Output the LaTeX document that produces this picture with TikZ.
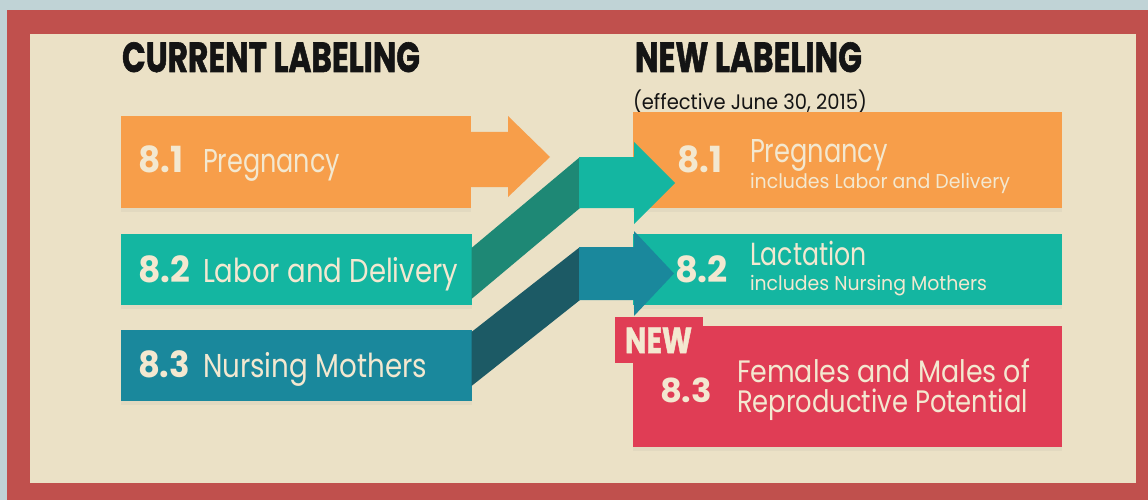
\documentclass[tikz,border=0pt]{standalone}
\usepackage{graphicx}
\usepackage{fontspec}
\setmainfont{Poppins}
\newfontfamily\headfont[BoldFeatures={FakeBold=1.5}]{Poppins}
\usetikzlibrary{shadows,calc}
\definecolor{outerbg}{HTML}{C0D3D6}
\definecolor{frame}{HTML}{C0504D}
\definecolor{cream}{HTML}{EBE1C6}
\definecolor{corange}{HTML}{F79E4A}
\definecolor{cteal}{HTML}{14B6A1}
\definecolor{cdteal}{HTML}{1A889C}
\definecolor{band1}{HTML}{1E8875}
\definecolor{band2}{HTML}{1C5A65}
\definecolor{cred}{HTML}{E03D55}
\definecolor{ctext}{HTML}{F3E8D0}
\definecolor{ink}{HTML}{141414}
\newcommand\fitw[2]{\resizebox{#1}{\height}{#2}}
\newcommand\fsz[1]{\fontsize{#1}{#1}\selectfont}
\begin{document}
\begin{tikzpicture}[x=1pt,y=-1pt,
  box/.style={inner sep=0pt, outer sep=0pt, anchor=north west,
    drop shadow={shadow xshift=0pt, shadow yshift=-4pt, opacity=0.08}},
  txt/.style={anchor=base west, inner sep=0pt, outer sep=0pt, text=ctext},
  head/.style={anchor=base west, inner sep=0pt, outer sep=0pt, text=ink}]
\useasboundingbox (0,0) rectangle (1148,500);
\fill[outerbg] (0,0) rectangle (1148,500);
\fill[frame] (7,10) rectangle (1148,500);
\fill[cream] (30,34) rectangle (1136,483);

% headings
\node[head] (h1) at (122,72) {\fsz{42}\headfont\bfseries\fitw{298pt}{CURRENT LABELING}};
\node[head] (h2) at (635,72) {\fsz{42}\headfont\bfseries\fitw{227pt}{NEW LABELING}};
\node[head] (h3) at (633,110) {\fsz{21}\fitw{234pt}{(effective June 30, 2015)}};

% left boxes
\node[box, fill=corange, minimum width=350pt, minimum height=92pt] (L1) at (121,116) {};
\node[box, fill=cteal, minimum width=351pt, minimum height=71pt] (L2) at (121,234) {};
\node[box, fill=cdteal, minimum width=351pt, minimum height=71pt] (L3) at (121,330) {};

% right boxes
\node[box, fill=corange, minimum width=429pt, minimum height=96pt] (R1) at (633,112) {};
\node[box, fill=cteal, minimum width=429pt, minimum height=71pt] (R2) at (633,234) {};
\node[box, fill=cred, minimum width=429pt, minimum height=121pt] (R3) at (633,326) {};
\node[inner sep=0pt, outer sep=0pt, anchor=north west, fill=cred, minimum width=88pt, minimum height=46pt] (tab) at (615,317) {};

% orange arrow
\fill[corange] (470,132) -- (508,132) -- (508,116) -- (550,157) -- (508,197) -- (508,187) -- (470,187) -- cycle;
% band 1 and arrow to new 8.1
\fill[band1] (471.5,248) -- (580,157) -- (580,208) -- (471.5,299) -- cycle;
\fill[cteal] (579,157) -- (634,157) -- (634,142) -- (675,183) -- (634,224) -- (634,208) -- (579,208) -- cycle;
% band 2 and arrow to new 8.2
\fill[band2] (471.5,332) -- (580,247) -- (580,300) -- (471.5,386) -- cycle;
\fill[cdteal] (579,247) -- (634,247) -- (634,231) -- (674,273.5) -- (634,316) -- (634,300) -- (579,300) -- cycle;

% left texts
\node[txt] (L1n) at (138,172) {\fsz{36}\bfseries\fitw{45pt}{8.1}};
\node[txt] (L1t) at (203,172) {\fsz{33}\fitw{137pt}{Pregnancy}};
\node[txt] (L2n) at (138,282) {\fsz{36}\bfseries\fitw{52pt}{8.2}};
\node[txt] (L2t) at (203,282) {\fsz{33}\fitw{255pt}{Labor and Delivery}};
\node[txt] (L3n) at (138,377) {\fsz{36}\bfseries\fitw{52pt}{8.3}};
\node[txt] (L3t) at (203,377) {\fsz{33}\fitw{224pt}{Nursing Mothers}};

% right texts
\node[txt] (R1n) at (677,172) {\fsz{36}\bfseries\fitw{45pt}{8.1}};
\node[txt] (R1t) at (750,163) {\fsz{33}\fitw{138pt}{Pregnancy}};
\node[txt] (R1s) at (750,188) {\fsz{20}\fitw{260pt}{includes Labor and Delivery}};
\node[txt] (R2n) at (675,282) {\fsz{36}\bfseries\fitw{53pt}{8.2}};
\node[txt] (R2t) at (750,265) {\fsz{32}\fitw{117pt}{Lactation}};
\node[txt] (R2s) at (750,290) {\fsz{20}\fitw{237pt}{includes Nursing Mothers}};
\node[txt] (new) at (625,353) {\fsz{36}\headfont\bfseries\fitw{67pt}{NEW}};
\node[txt] (R3n) at (660,402) {\fsz{33}\bfseries\fitw{52pt}{8.3}};
\node[txt] (R3a) at (737,382) {\fsz{31}\fitw{293pt}{Females and Males of}};
\node[txt] (R3b) at (737,412) {\fsz{31}\fitw{291pt}{Reproductive Potential}};
\end{tikzpicture}
\end{document}
